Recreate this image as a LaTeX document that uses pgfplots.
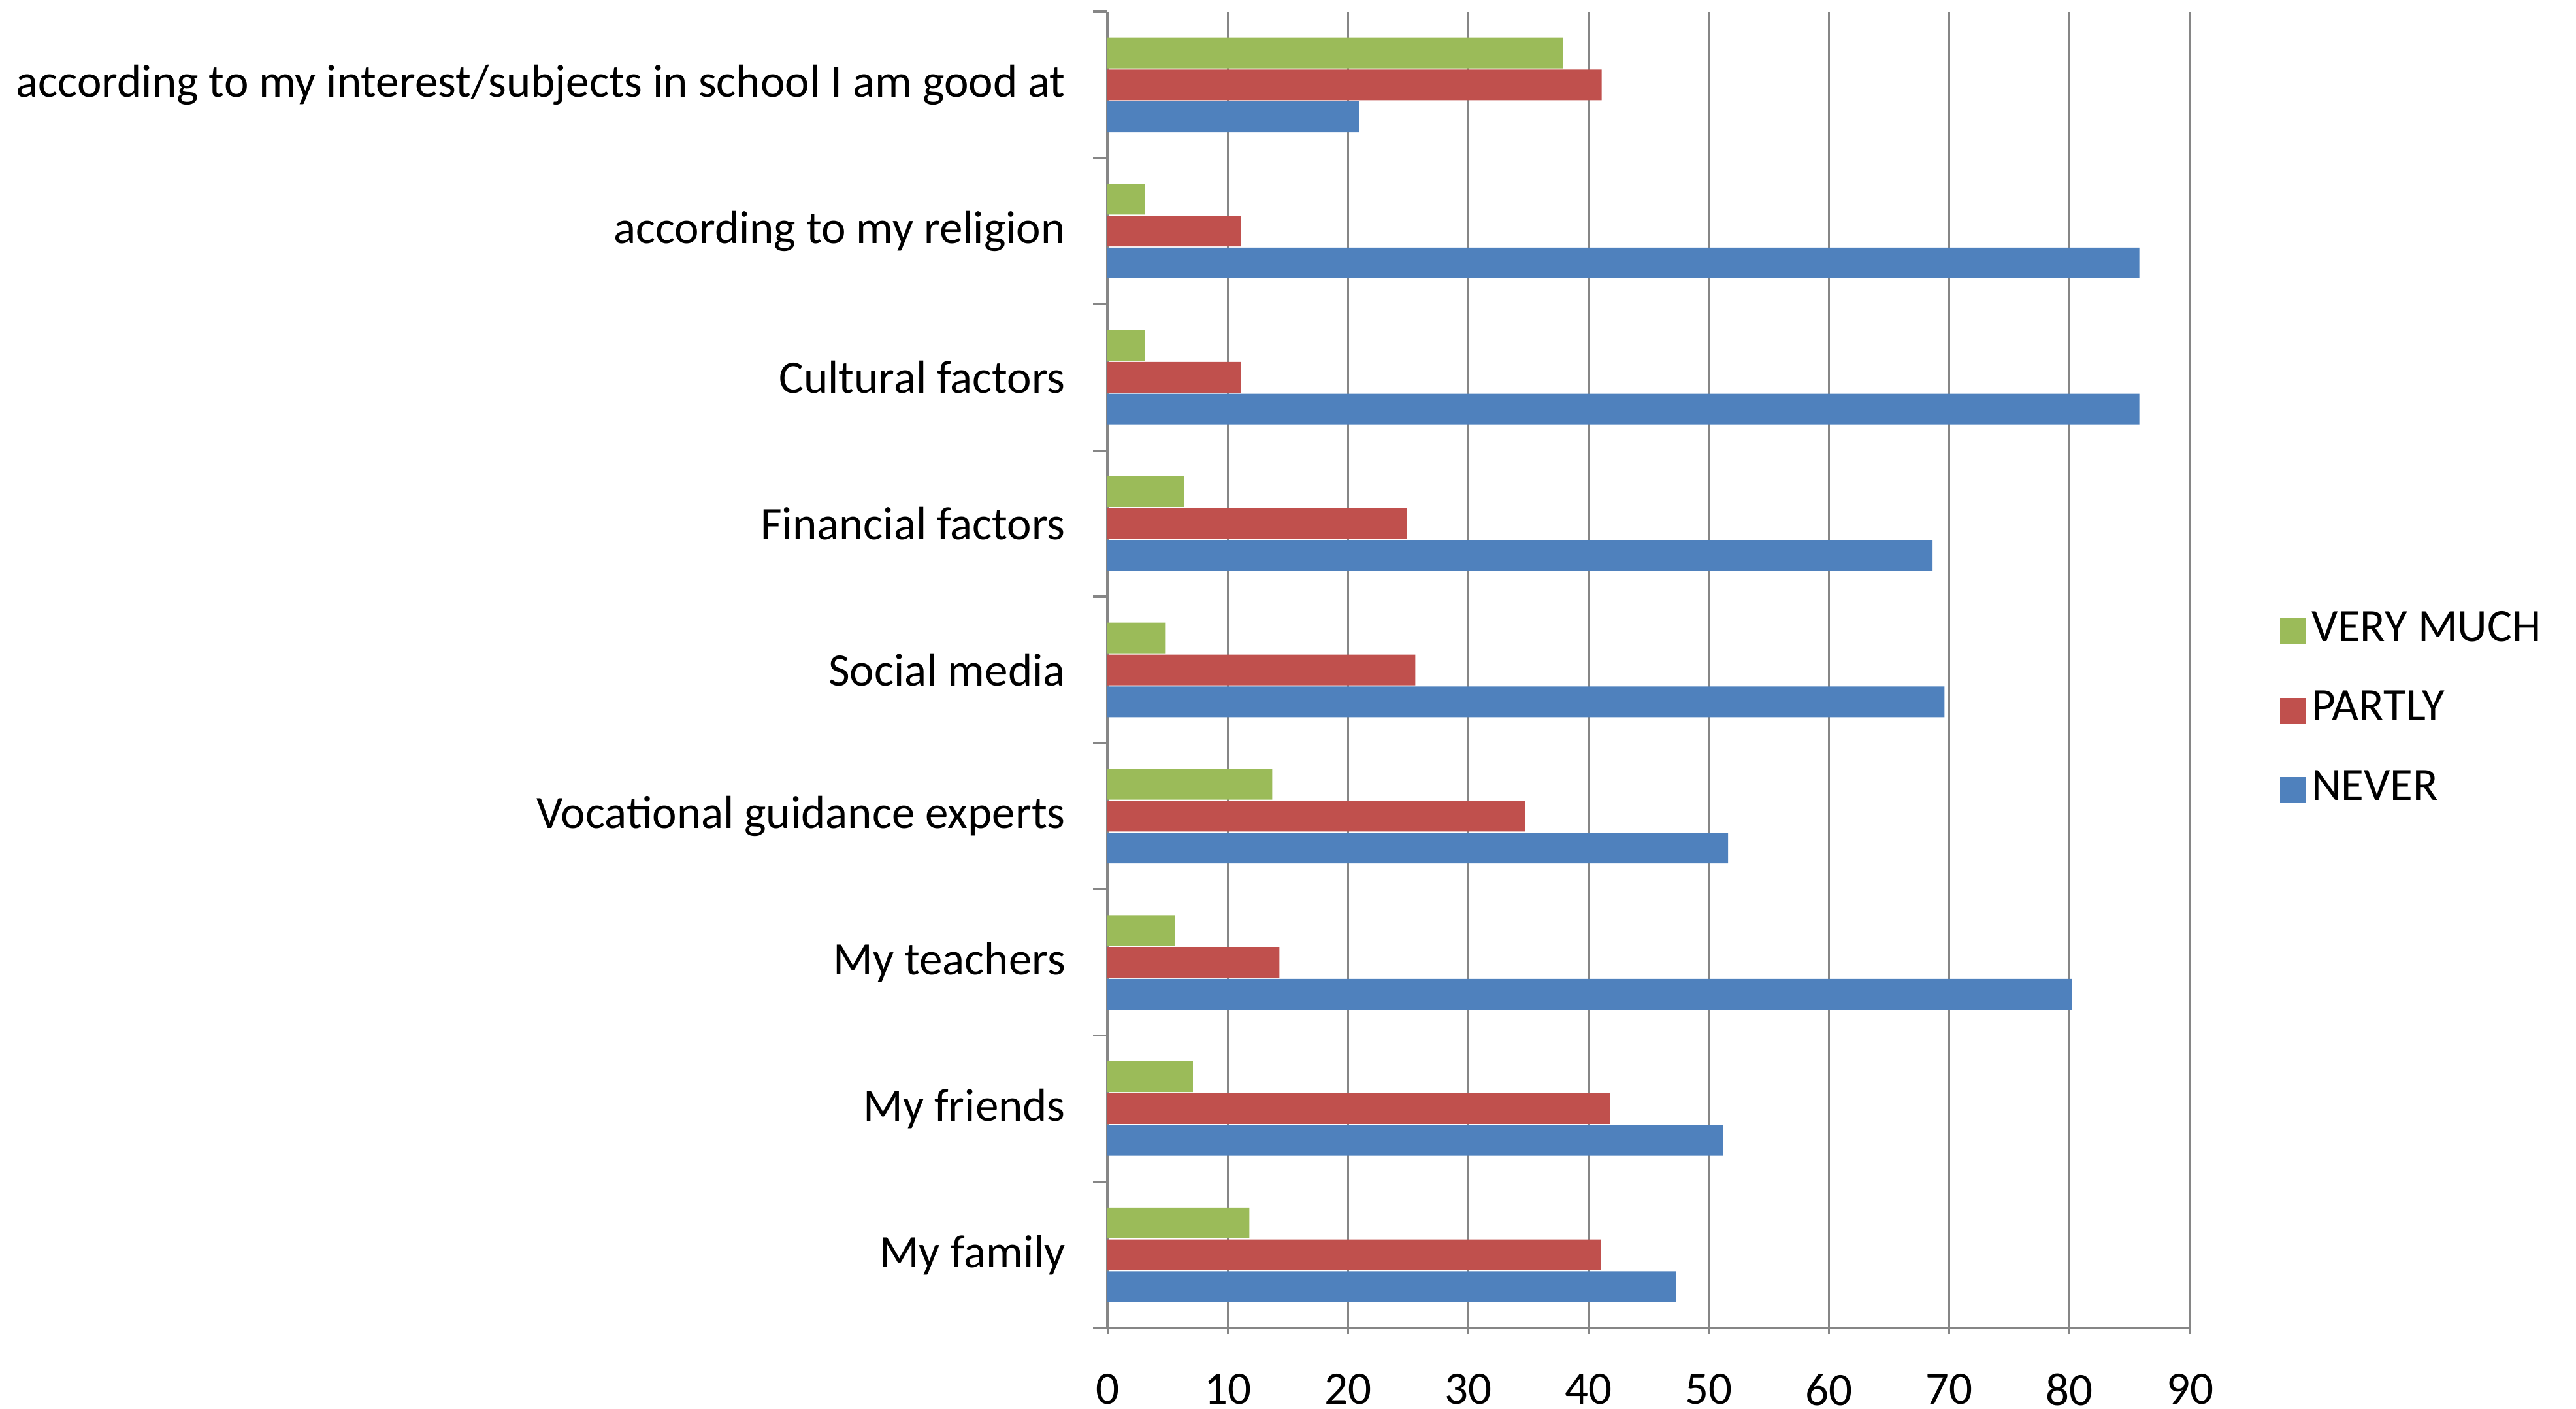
\documentclass[border=0pt]{standalone}
\usepackage{fontspec}
\setmainfont{Carlito}
\usepackage{pgfplots}
\pgfplotsset{compat=1.18}

\definecolor{vmgreen}{HTML}{9BBB59}
\definecolor{ptred}{HTML}{C0504D}
\definecolor{nvblue}{HTML}{4F81BD}
\definecolor{gridgray}{HTML}{868686}

\begin{document}
\begin{tikzpicture}
\begin{axis}[
    scale only axis,
    width=165.7pt, height=201.4pt,
    font=\fontsize{7.1}{9}\selectfont,
    xbar, bar width=0.21,
    xmin=0, xmax=90, ymin=-0.5, ymax=8.5,
    xtick={0,10,...,90},
    ytick={0,...,8},
    yticklabels={My family, My friends~, My teachers~, Vocational guidance experts,
      Social media, Financial factors, Cultural factors, according to my religion,
      according to my interest/subjects in school I am good at},
    minor ytick={-0.5,0.5,...,8.5},
    axis lines=left, axis line style={-, gridgray, line width=0.35pt},
    xmajorgrids, grid style={gridgray, line width=0.3pt},
    tick align=outside, tick pos=left,
    major tick length=1pt, minor tick length=2.2pt,
    every major y tick/.style={draw=none},
    every minor y tick/.style={gridgray, line width=0.35pt},
    every major x tick/.style={gridgray, line width=0.3pt},
    xticklabel style={yshift=-2.5pt},
    yticklabel style={xshift=-1.9pt},
    /pgf/number format/assume math mode=true,
    legend style={draw=none, fill=none, at={(1,0.469)}, anchor=west, xshift=13.6pt,
      inner sep=0pt, row sep=4.5pt, font=\fontsize{7.1}{9}\selectfont,
      nodes={inner sep=0.8pt},
      every odd column/.append style={column sep=2.8pt}},
    legend cell align=left,
    legend image code/.code={\fill[#1] (0pt,-2pt) rectangle (4pt,2pt);},
]
\addplot[fill=vmgreen, draw=none, bar shift=0.218] coordinates {
  (11.8,0) (7.1,1) (5.6,2) (13.7,3) (4.8,4) (6.4,5) (3.1,6) (3.1,7) (37.9,8)};
\addplot[fill=ptred, draw=none, bar shift=0] coordinates {
  (41.0,0) (41.8,1) (14.3,2) (34.7,3) (25.6,4) (24.9,5) (11.1,6) (11.1,7) (41.1,8)};
\addplot[fill=nvblue, draw=none, bar shift=-0.218] coordinates {
  (47.3,0) (51.2,1) (80.2,2) (51.6,3) (69.6,4) (68.6,5) (85.8,6) (85.8,7) (20.9,8)};
\legend{VERY MUCH, PARTLY, NEVER}
\end{axis}
\pgfresetboundingbox
\path[use as bounding box] ([shift={(-169.5pt,-12.3pt)}]current axis.south west)
  rectangle ([shift={(59.1pt,1.8pt)}]current axis.north east);
\end{tikzpicture}
\end{document}
